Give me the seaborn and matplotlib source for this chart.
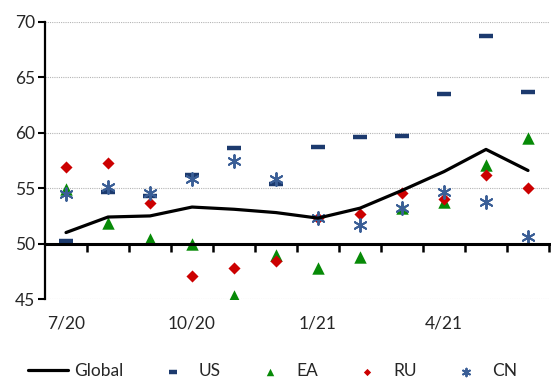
import numpy as np
import pandas as pd
import matplotlib.pyplot as plt
import seaborn as sns
from matplotlib.ticker import FixedLocator

months = ['7/20', '8/20', '9/20', '10/20', '11/20', '12/20',
          '1/21', '2/21', '3/21', '4/21', '5/21', '6/21']
global_pmi = [51.0, 52.4, 52.5, 53.3, 53.1, 52.8, 52.3, 53.2, 54.8, 56.5, 58.5, 56.6]
us = [50.2, 54.7, 54.3, 56.2, 58.6, 55.4, 58.7, 59.6, 59.7, 63.5, 68.7, 63.7]
ea = [54.9, 51.9, 50.4, 50.0, 45.3, 49.0, 47.8, 48.8, 53.2, 53.8, 57.1, 59.5]
ru = [56.9, 57.3, 53.7, 47.1, 47.8, 48.4, 52.3, 52.7, 54.6, 54.0, 56.2, 55.0]
cn = [54.5, 55.1, 54.6, 55.8, 57.5, 55.8, 52.3, 51.7, 53.2, 54.7, 53.8, 50.6]
tick_labels = ['7/20', '10/20', '1/21', '4/21']

df = pd.DataFrame({'idx': np.arange(len(months)), 'month': months,
                   'Global': global_pmi, 'US': us, 'EA': ea, 'RU': ru, 'CN': cn})

sns.set_style('white')
plt.rcParams['font.family'] = ['Lato', 'DejaVu Sans']

fig = plt.figure(figsize=(5.51, 3.79), dpi=100)
ax = fig.add_axes([0.0817, 0.211, 0.9147, 0.731])

sns.lineplot(data=df, x='idx', y='Global', color='black', linewidth=2.3,
             ax=ax, label='Global')
sns.scatterplot(data=df, x='idx', y='US', marker='_', s=95, linewidth=3.2,
                color='#1c3a6e', ax=ax, label='US')
sns.scatterplot(data=df, x='idx', y='EA', marker='^', s=80, linewidth=0,
                color='#078a07', ax=ax, label='EA')
sns.scatterplot(data=df, x='idx', y='RU', marker='D', s=38, linewidth=0,
                color='#cc0000', ax=ax, label='RU')
sns.scatterplot(data=df, x='idx', y='CN', marker=(6, 2, 0), s=85, linewidth=1.4,
                color='#3a5e96', ax=ax, label='CN')

ax.set_xlim(-0.5, 11.5)
ax.set_ylim(45, 70)
ax.set_yticks([45, 50, 55, 60, 65, 70])
ax.set_xlabel('')
ax.set_ylabel('')
ax.tick_params(axis='y', left=True, length=5, width=1.5, direction='out',
               labelsize=12.5, pad=2, color='black')
for side in ['top', 'right']:
    ax.spines[side].set_visible(False)
ax.spines['left'].set_color('black')
ax.spines['left'].set_linewidth(1.6)

# x axis crosses at 50, labels sit below the plot area
ax.spines['bottom'].set_position(('data', 50))
ax.spines['bottom'].set_color('black')
ax.spines['bottom'].set_linewidth(2.2)
ax.set_xticks([0, 3, 6, 9])
ax.set_xticklabels(tick_labels)
ax.xaxis.set_minor_locator(FixedLocator(np.arange(0.5, 12, 1)))
ax.tick_params(axis='x', which='major', bottom=True, length=0, pad=52,
               labelsize=12.5)
ax.tick_params(axis='x', which='minor', bottom=True, length=6, width=1.8,
               direction='out', color='black')

# dotted horizontal gridlines, none on the axis line itself
ax.yaxis.grid(True, linestyle=(0, (1, 1)), color='#b5b5b5', linewidth=0.8)
ax.xaxis.grid(False)
ax.yaxis.get_gridlines()[1].set_visible(False)

ax.legend(loc='lower center', bbox_to_anchor=(0.495, -0.042),
          bbox_transform=fig.transFigure, ncol=5, frameon=False,
          fontsize=12.5, handlelength=2.3, handletextpad=0.35,
          columnspacing=1.7, markerscale=0.6)

fig.savefig('out.png', dpi=100)
